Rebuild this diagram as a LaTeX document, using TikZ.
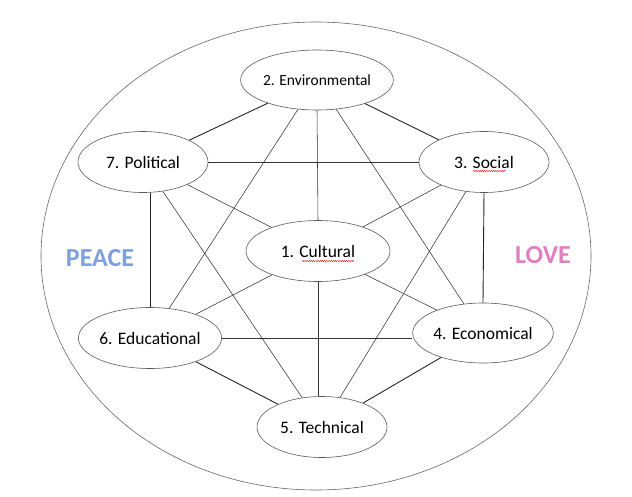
\documentclass[tikz,border=0pt]{standalone}
\usepackage{fontspec}
\setmainfont{Carlito}
\usetikzlibrary{shapes.geometric,decorations.pathmorphing}
\definecolor{peaceblue}{RGB}{128,160,221}
\definecolor{lovepink}{RGB}{224,128,192}

\begin{document}
\begin{tikzpicture}[x=1pt, y=-1pt, font=\fontsize{17.5}{21}\selectfont,
  area/.style={draw=black!65, line width=0.6pt, ellipse, minimum width=130pt, minimum height=61pt, inner sep=0pt},
  link/.style={draw=black!80, line width=0.55pt},
  rimlink/.style={draw=black!85, line width=0.9pt},
  motto/.style={font=\fontsize{26}{30}\selectfont\bfseries},
  spellwave/.style={draw=red!85!black, line width=0.4pt, decorate, decoration={snake, segment length=2.2pt, amplitude=0.6pt}}]
\useasboundingbox (0,0) rectangle (632,496);
\node[draw=black!60, line width=0.6pt, ellipse, minimum width=550pt, minimum height=468pt, inner sep=0pt] (world) at (316,256) {};
% the seven dimensions
\node[area] (cul) at (318,251) [minimum width=144pt] {1. Cultural};
\node[area] (env) at (317,80) [minimum width=149pt, minimum height=60pt, font=\fontsize{15.5}{19}\selectfont] {2. Environmental};
\node[area] (soc) at (484,162) {3. Social};
\node[area] (eco) at (483,333) [minimum height=60pt] {4. Economical};
\node[area] (tec) at (322,427) {5. Technical};
\node[area] (edu) at (150,338) {6. Educational};
\node[area] (pol) at (143,162) {7. Political};
\node[motto, text=peaceblue] (peace) at (100,258) {PEACE};
\node[motto, text=lovepink] (love) at (543,255) {LOVE};
% spell-check marks
\draw[spellwave] ([xshift=-16pt,yshift=-10pt]cul.center) -- ([xshift=36pt,yshift=-10pt]cul.center);
\draw[spellwave] ([xshift=-11pt,yshift=-9pt]soc.center) -- ([xshift=22pt,yshift=-9pt]soc.center);
% outer ring
\draw[rimlink] (env)--(soc);
\draw[rimlink] (env)--(pol);
\draw[rimlink] (soc.south)--(eco.north);
\draw[rimlink] (edu.north |- pol.south)--(edu.north);
\draw[rimlink] (tec)--(eco);
\draw[rimlink] (tec)--(edu);
% inner links
\draw[link] (env.south)--(cul.north);
\draw[link] (cul.south)--(cul.south |- tec.north);
\draw[link] (pol.east)--(soc.west);
\draw[link] (edu.east)--(edu.east -| eco.west);
\draw[link] (cul)--(pol);
\draw[link] (cul)--(soc);
\draw[link] (cul)--(edu);
\draw[link] (cul)--(eco);
\draw[link] (env)--(edu);
\draw[link] (env)--(eco);
\draw[link] (pol)--(tec);
\draw[link] (soc)--(tec);
\end{tikzpicture}
\end{document}
